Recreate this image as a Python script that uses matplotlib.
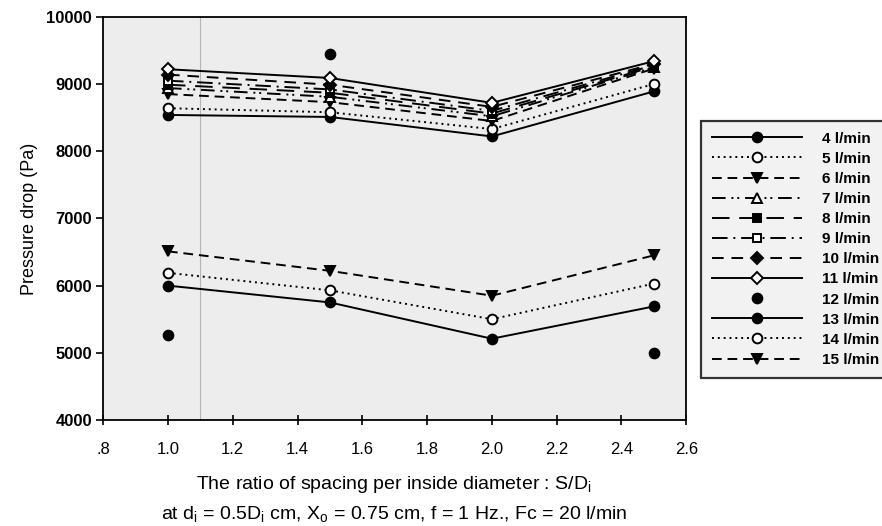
import numpy as np
import matplotlib
matplotlib.use("Agg")
import matplotlib.pyplot as plt

plt.rcParams["font.family"] = ["Liberation Sans", "DejaVu Sans"]
plt.rcParams["mathtext.default"] = "regular"

# S/Di ratio
ratio = [1.0, 1.5, 2.0, 2.5]

flow_labels = ["4 l/min", "5 l/min", "6 l/min", "7 l/min", "8 l/min", "9 l/min",
               "10 l/min", "11 l/min", "12 l/min", "13 l/min", "14 l/min", "15 l/min"]

p4 = [8540, 8510, 8220, 8890]
p5 = [8640, 8580, 8330, 9000]
p6 = [8850, 8730, 8450, 9230]
p7 = [8940, 8810, 8520, 9250]
p8 = [8990, 8870, 8560, 9260]
p9 = [9050, 8920, 8600, 9280]
p10 = [9140, 8990, 8660, 9300]
p11 = [9220, 9090, 8720, 9340]
p12 = [5270, 9450, np.nan, 4990]
p13 = [6000, 5750, 5210, 5690]
p14 = [6190, 5930, 5500, 6030]
p15 = [6510, 6220, 5850, 6450]

series = [p4, p5, p6, p7, p8, p9, p10, p11, p12, p13, p14, p15]

# (linestyle, marker, filled)
styles = [
    ("-", "o", True),
    ((0, (1, 2)), "o", False),
    ((0, (5, 3)), "v", True),
    ((0, (7, 3, 1, 2, 1, 3)), "^", False),
    ((0, (9, 5)), "s", True),
    ((0, (8, 3, 1, 3)), "s", False),
    ((0, (6, 4)), "D", True),
    ("-", "D", False),
    ("none", "o", True),
    ("-", "o", True),
    ((0, (1, 2)), "o", False),
    ((0, (5, 3)), "v", True),
]

fig = plt.figure(figsize=(8.82, 5.26), dpi=100)
ax = fig.add_axes([0.117, 0.2015, 0.661, 0.7665])
ax.set_facecolor("#ededed")

ax.axvline(1.1, color="#b4b4b4", linewidth=0.8, zorder=0)

for vals, label, (ls, mk, filled) in zip(series, flow_labels, styles):
    ms = 6 if mk in ("D", "s") else 7
    ax.plot(ratio, vals, linestyle=ls, color="black", linewidth=1.4,
            marker=mk, markersize=ms,
            markerfacecolor="black" if filled else "white",
            markeredgecolor="black", markeredgewidth=1.4, label=label)

ax.set_xlim(0.8, 2.6)
ax.set_ylim(4000, 10000)
ax.set_xticks(np.arange(0.8, 2.61, 0.2))
ax.set_xticklabels([".8", "1.0", "1.2", "1.4", "1.6", "1.8", "2.0", "2.2", "2.4", "2.6"],
                   fontsize=12, family=["Liberation Sans Narrow", "Liberation Sans"])
ax.set_yticks(np.arange(4000, 10001, 1000))
ax.set_yticklabels([str(v) for v in range(4000, 10001, 1000)], fontsize=12,
                   fontweight="bold")
ax.tick_params(axis="x", direction="inout", length=7, width=1.2, pad=12)
ax.tick_params(axis="y", direction="out", length=5, width=1.2, pad=3)
for sp in ax.spines.values():
    sp.set_linewidth(1.3)

ax.set_ylabel("Pressure drop (Pa)", fontsize=13, labelpad=6)

fig.text(0.447, 0.078, "The ratio of spacing per inside diameter : S/D$_i$",
         ha="center", va="center", fontsize=14)
fig.text(0.447, 0.022,
         "at d$_i$ = 0.5D$_i$ cm, X$_o$ = 0.75 cm, f = 1 Hz., Fc = 20 l/min",
         ha="center", va="center", fontsize=14)

leg = fig.legend(loc="upper left", bbox_to_anchor=(0.795, 0.770),
                 bbox_transform=fig.transFigure, frameon=True, fancybox=False,
                 handlelength=5.9, handletextpad=1.3, labelspacing=0.40,
                 borderpad=0.7, borderaxespad=0,
                 prop={"size": 11, "weight": "bold"})
leg.get_frame().set_edgecolor("black")
leg.get_frame().set_linewidth(1.6)
leg.get_frame().set_facecolor("#efefef")

fig.savefig("out.png", dpi=100, facecolor="white")
